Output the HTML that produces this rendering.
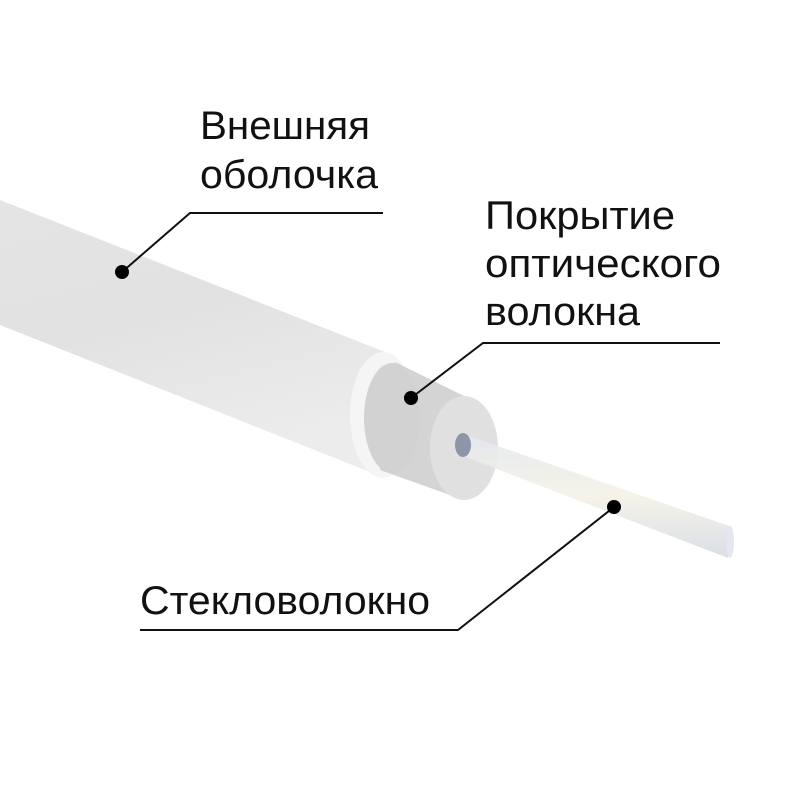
<!DOCTYPE html>
<html><head><meta charset="utf-8"><style>
body{margin:0;background:#fff;width:800px;height:800px;overflow:hidden}
svg text{font-family:"Liberation Sans",sans-serif;font-size:40px;fill:#111}
</style></head><body>
<svg width="800" height="800" viewBox="0 0 800 800">
<defs>
<linearGradient id="jk" x1="0" y1="0" x2="0.35" y2="1">
<stop offset="0" stop-color="#e4e4e4"/><stop offset="0.5" stop-color="#e2e2e2"/><stop offset="1" stop-color="#ececec"/>
</linearGradient>
<linearGradient id="fb" x1="0" y1="0" x2="0" y2="1">
<stop offset="0" stop-color="#e4e8ef"/><stop offset="0.5" stop-color="#f4f1e6"/><stop offset="1" stop-color="#d6dbe4"/>
</linearGradient>
</defs>
<polygon points="0,200 385,352 385,478 0,325" fill="url(#jk)"/>
<ellipse cx="383" cy="415" rx="33" ry="63" fill="#f5f5f5"/>
<polygon points="395,362 464,396 464,500 380,470" fill="#d4d4d4"/>
<ellipse cx="392" cy="418" rx="28" ry="55" fill="#d2d2d2"/>
<ellipse cx="464" cy="448" rx="34" ry="52" fill="#e0e0e0"/>
<polygon points="463,434 732,527 728,558 463,456" fill="url(#fb)" opacity="0.9"/>
<ellipse cx="730" cy="542" rx="4" ry="16" fill="#e3e7ee"/>
<ellipse cx="463" cy="445" rx="8" ry="12" fill="#8c96a8"/>
<g stroke="#111" stroke-width="2" fill="none">
<polyline points="383,213 190,213 122,272"/>
<polyline points="720,343 483,343 411,398"/>
<polyline points="140,630 458,630 614,507"/>
</g>
<circle cx="122" cy="272" r="7" fill="#000"/>
<circle cx="411" cy="398" r="7" fill="#000"/>
<circle cx="614" cy="507" r="7" fill="#000"/>
<text x="200" y="139" textLength="170" lengthAdjust="spacingAndGlyphs">Внешняя</text>
<text x="200" y="188" textLength="178" lengthAdjust="spacingAndGlyphs">оболочка</text>
<text x="485" y="229" textLength="190" lengthAdjust="spacingAndGlyphs">Покрытие</text>
<text x="485" y="277" textLength="236" lengthAdjust="spacingAndGlyphs">оптического</text>
<text x="485" y="325" textLength="155" lengthAdjust="spacingAndGlyphs">волокна</text>
<text x="140" y="614" textLength="290" lengthAdjust="spacingAndGlyphs">Стекловолокно</text>
</svg>
</body></html>
